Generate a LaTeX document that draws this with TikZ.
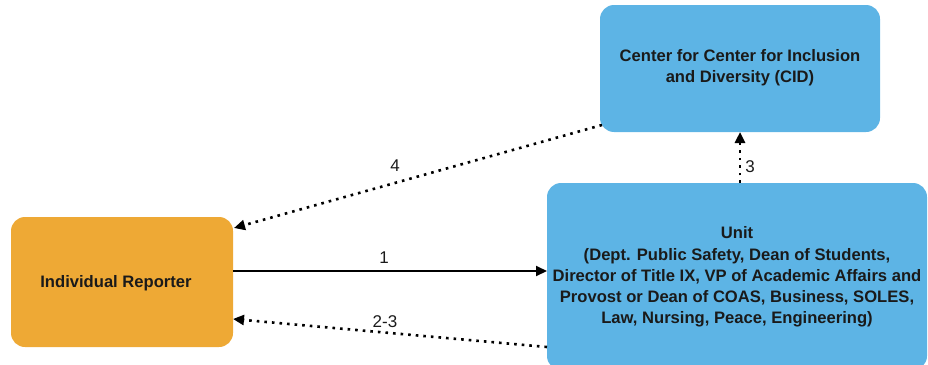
\documentclass[tikz,border=0pt]{standalone}
\usepackage{fontspec}
\setmainfont{Liberation Sans}
\usetikzlibrary{arrows.meta}
\definecolor{orangebox}{HTML}{EEA935}
\definecolor{bluebox}{HTML}{5DB4E5}
\definecolor{txt}{HTML}{1A1A1A}
\begin{document}
\begin{tikzpicture}[x=1pt,y=-1pt,
  boxtext/.style={text=txt, align=center, inner sep=0pt, font=\fontsize{16.6}{21.2}\selectfont\bfseries},
  solidarrow/.style={line width=2pt, -{Triangle[length=11pt,width=10pt]}},
  dotarrow/.style={line width=2.6pt, dash pattern=on 2.6pt off 5pt, -{Triangle[length=11pt,width=10pt]}},
  lbl/.style={font=\fontsize{17}{19}\selectfont, text=txt}]
\useasboundingbox (0,0) rectangle (928,364);
\fill[bluebox, rounded corners=14pt] (600,5) rectangle (880,132);
\fill[orangebox, rounded corners=14pt] (11,217) rectangle (233,347);
\fill[bluebox, rounded corners=14pt] (547,183) rectangle (927,370);
\node[boxtext] (cidt) at (740,68) {Center for Center for Inclusion\\and Diversity (CID)};
\node[boxtext] (rep) at (116,283) {Individual Reporter};
\node[boxtext] (unit) at (737,277) {Unit\\(Dept. Public Safety, Dean of Students,\\Director of Title IX, VP of Academic Affairs and\\Provost or Dean of COAS, Business, SOLES,\\Law, Nursing, Peace, Engineering)};
\coordinate (a1s) at (233,271);
\coordinate (a1e) at (547,271);
\coordinate (a23s) at (547,347);
\coordinate (a23e) at (233,319);
\coordinate (a3s) at (740,183);
\coordinate (a3e) at (740,132);
\coordinate (a4s) at (602,125);
\coordinate (a4e) at (234,228);
\draw[solidarrow] (a1s) -- (a1e);
\draw[dotarrow] (a23s) -- (a23e);
\draw[dotarrow] (a3s) -- (a3e);
\draw[dotarrow] (a4s) -- (a4e);
\node[lbl] (l1) at (384,258) {1};
\node[lbl] (l23) at (385,322) {2-3};
\node[lbl] (l3) at (750,167) {3};
\node[lbl] (l4) at (395,166) {4};
\end{tikzpicture}
\end{document}
